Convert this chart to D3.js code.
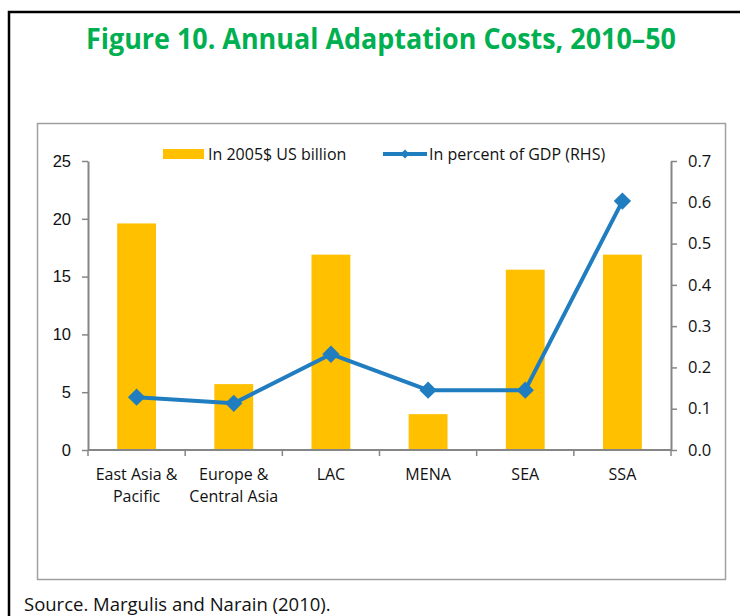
<!DOCTYPE html>
<html>
<head>
<meta charset="utf-8">
<script src="https://cdn.jsdelivr.net/npm/d3@7"></script>
<style>
  body { margin: 0; background: #fff; }
  svg { display: block; }
</style>
</head>
<body>
<svg id="chart" width="740" height="616"></svg>
<script>
// chart data
const regions = ['East Asia & Pacific', 'Europe & Central Asia', 'LAC', 'MENA', 'SEA', 'SSA'];
const regionLines = [['East Asia &', 'Pacific'], ['Europe &', 'Central Asia'], ['LAC'], ['MENA'], ['SEA'], ['SSA']];
const costBillion = [19.6, 5.7, 16.9, 3.1, 15.6, 16.9];
const pctGdp = [0.128, 0.113, 0.232, 0.145, 0.145, 0.603];
const leftTicks = [0, 5, 10, 15, 20, 25];
const rightTicks = [0, 0.1, 0.2, 0.3, 0.4, 0.5, 0.6, 0.7];

const svg = d3.select('#chart');
const font = "'Open Sans', 'Noto Sans', sans-serif";
const textColor = '#111';
const barColor = '#ffc000';
const lineColor = '#1f7dc0';
const axisColor = '#868686';

// outer frame (black, open on right and bottom)
svg.append('path')
    .attr('d', 'M9,616 V12 H740')
    .attr('fill', 'none')
    .attr('stroke', '#000')
    .attr('stroke-width', 2.5);

// title
svg.append('text')
    .attr('x', 381).attr('y', 49)
    .attr('text-anchor', 'middle')
    .attr('font-family', font)
    .attr('font-weight', 'bold')
    .attr('font-size', 29)
    .attr('fill', '#00b050')
    .attr('textLength', 590)
    .attr('lengthAdjust', 'spacingAndGlyphs')
    .text('Figure 10. Annual Adaptation Costs, 2010–50');

// inner chart box
svg.append('rect')
    .attr('x', 37.5).attr('y', 123.5)
    .attr('width', 688).attr('height', 456)
    .attr('fill', 'none')
    .attr('stroke', '#a0a0a0')
    .attr('stroke-width', 1.5);

// scales
const x = d3.scaleBand().domain(regions).range([88, 671]).paddingInner(0).paddingOuter(0);
const yL = d3.scaleLinear().domain([0, 25]).range([450, 161]);
const yR = d3.scaleLinear().domain([0, 0.7]).range([450, 161]);
const barW = x.bandwidth() * 0.4;

// bars
svg.append('g').selectAll('rect')
    .data(regions)
    .join('rect')
    .attr('x', d => x(d) + (x.bandwidth() - barW) / 2)
    .attr('y', (d, i) => yL(costBillion[i]))
    .attr('width', barW)
    .attr('height', (d, i) => yL(0) - yL(costBillion[i]))
    .attr('fill', barColor);

// axes
function styleAxis(g) {
    g.select('.domain').attr('stroke', axisColor).attr('stroke-width', 2);
    g.selectAll('.tick line').attr('stroke', axisColor).attr('stroke-width', 1.5);
    g.selectAll('.tick text').attr('fill', textColor);
}

svg.append('g')
    .attr('transform', 'translate(88,0)')
    .call(d3.axisLeft(yL).tickValues(leftTicks).tickSize(6).tickSizeOuter(0).tickPadding(11))
    .call(styleAxis)
    .call(g => g.selectAll('.tick text')
        .attr('font-family', "'Liberation Sans', Arial, sans-serif")
        .attr('font-size', 16.5));

svg.append('g')
    .attr('transform', 'translate(671,0)')
    .call(d3.axisRight(yR).tickValues(rightTicks).tickFormat(d3.format('.1f')).tickSize(6).tickSizeOuter(0).tickPadding(11))
    .call(styleAxis)
    .call(g => g.selectAll('.tick text')
        .attr('font-family', font)
        .attr('font-size', 16.5));

// x axis: ticks at band boundaries
const xAxisG = svg.append('g').attr('transform', 'translate(0,450)');
xAxisG.append('line')
    .attr('x1', 88).attr('x2', 671)
    .attr('stroke', axisColor).attr('stroke-width', 2);
const bounds = regions.map(d => x(d)).concat([x.range()[1]]);
xAxisG.selectAll('line.tk')
    .data(bounds)
    .join('line')
    .attr('class', 'tk')
    .attr('x1', d => d).attr('x2', d => d)
    .attr('y1', 0).attr('y2', 6)
    .attr('stroke', axisColor).attr('stroke-width', 1.5);

const labels = xAxisG.selectAll('text.lbl')
    .data(regions)
    .join('text')
    .attr('class', 'lbl')
    .attr('x', d => x(d) + x.bandwidth() / 2)
    .attr('y', 30)
    .attr('text-anchor', 'middle')
    .attr('font-family', font)
    .attr('font-size', 16)
    .attr('fill', textColor);
labels.each(function (d, i) {
    d3.select(this).selectAll('tspan')
        .data(regionLines[i])
        .join('tspan')
        .attr('x', x(d) + x.bandwidth() / 2)
        .attr('dy', (t, j) => j === 0 ? 0 : 22)
        .text(t => t);
});

// line series
const line = d3.line()
    .x((d, i) => x(regions[i]) + x.bandwidth() / 2)
    .y(d => yR(d));

svg.append('path')
    .datum(pctGdp)
    .attr('fill', 'none')
    .attr('stroke', lineColor)
    .attr('stroke-width', 4)
    .attr('stroke-linejoin', 'round')
    .attr('d', line);

const diamond = d3.symbol().type(d3.symbolSquare).size(150);
svg.append('g').selectAll('path')
    .data(pctGdp)
    .join('path')
    .attr('transform', (d, i) => `translate(${x(regions[i]) + x.bandwidth() / 2},${yR(d)}) rotate(45)`)
    .attr('d', diamond)
    .attr('fill', lineColor);

// legend
const legend = svg.append('g');
legend.append('rect')
    .attr('x', 163).attr('y', 149).attr('width', 41).attr('height', 10)
    .attr('fill', barColor);
legend.append('text')
    .attr('x', 208).attr('y', 160)
    .attr('font-family', font).attr('font-size', 16).attr('fill', textColor)
    .text('In 2005$ US billion');
legend.append('line')
    .attr('x1', 383).attr('x2', 427).attr('y1', 154).attr('y2', 154)
    .attr('stroke', lineColor).attr('stroke-width', 4);
legend.append('path')
    .attr('transform', 'translate(405,154) rotate(45)')
    .attr('d', d3.symbol().type(d3.symbolSquare).size(40))
    .attr('fill', lineColor);
legend.append('text')
    .attr('x', 429).attr('y', 160)
    .attr('font-family', font).attr('font-size', 16).attr('fill', textColor)
    .text('In percent of GDP (RHS)');

// source note
svg.append('text')
    .attr('x', 24).attr('y', 611)
    .attr('font-family', font)
    .attr('font-size', 18.5)
    .attr('fill', textColor)
    .text('Source. Margulis and Narain (2010).');
</script>
</body>
</html>
